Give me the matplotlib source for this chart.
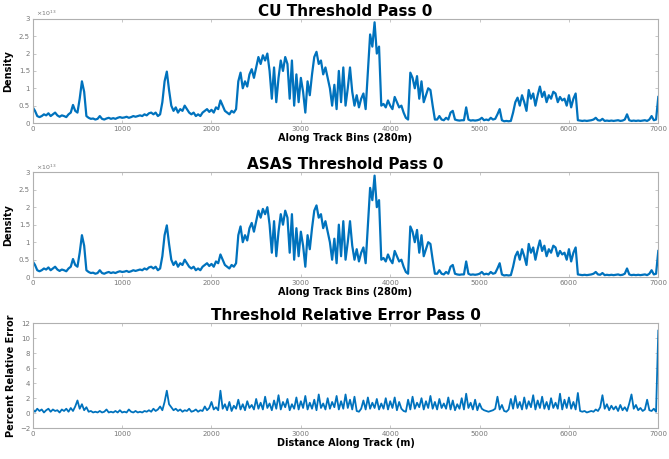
import numpy as np
import matplotlib
matplotlib.use('Agg')
import matplotlib.pyplot as plt

# %% Data (density in units of 1e13, one value every 25 bins)
bin_step = 25

cu_density = [
    0.45, 0.35, 0.2, 0.17, 0.2, 0.25, 0.22, 0.28, 0.2, 0.25, 0.3, 0.22, 0.18, 0.22, 0.2, 0.17, 0.25, 0.3, 0.52, 0.35,
    0.3, 0.7, 1.2, 0.9, 0.2, 0.15, 0.12, 0.13, 0.1, 0.12, 0.2, 0.12, 0.1, 0.13, 0.15, 0.12, 0.14, 0.12, 0.15, 0.17,
    0.15, 0.16, 0.18, 0.15, 0.17, 0.2, 0.18, 0.2, 0.22, 0.2, 0.25, 0.22, 0.28, 0.3, 0.25, 0.3, 0.2, 0.25, 0.6, 1.2,
    1.48, 0.95, 0.5, 0.35, 0.45, 0.3, 0.4, 0.35, 0.5, 0.4, 0.3, 0.25, 0.3, 0.2, 0.25, 0.2, 0.3, 0.35, 0.4, 0.32,
    0.38, 0.3, 0.45, 0.4, 0.65, 0.5, 0.35, 0.3, 0.25, 0.35, 0.3, 0.4, 1.2, 1.45, 1.0, 1.2, 1.05, 1.4, 1.55, 1.3,
    1.6, 1.9, 1.7, 1.95, 1.8, 2.0, 1.5, 0.7, 1.6, 0.6, 1.3, 1.8, 1.5, 1.9, 1.7, 0.7, 1.8, 0.5, 1.4, 0.6,
    1.3, 0.9, 0.3, 1.2, 0.8, 1.4, 1.9, 2.05, 1.7, 1.8, 1.4, 1.6, 1.3, 1.0, 0.5, 1.1, 0.4, 1.5, 0.6, 1.6,
    0.5, 1.0, 1.6, 0.9, 0.5, 0.8, 0.45, 0.7, 0.85, 0.4, 1.5, 2.55, 2.2, 2.9, 2.0, 2.2, 0.5, 0.55, 0.45, 0.65,
    0.5, 0.4, 0.75, 0.6, 0.45, 0.5, 0.3, 0.15, 0.1, 1.45, 1.3, 1.0, 1.35, 0.7, 1.2, 0.6, 0.8, 1.0, 0.95, 0.5,
    0.1, 0.1, 0.2, 0.1, 0.08, 0.15, 0.1, 0.3, 0.35, 0.1, 0.08, 0.07, 0.08, 0.08, 0.45, 0.1, 0.07, 0.08, 0.07, 0.08,
    0.1, 0.15, 0.08, 0.1, 0.08, 0.15, 0.1, 0.12, 0.25, 0.4, 0.08, 0.05, 0.06, 0.05, 0.06, 0.3, 0.6, 0.73, 0.5, 0.8,
    0.6, 0.35, 0.95, 0.7, 0.85, 0.5, 0.8, 1.05, 0.75, 0.9, 0.6, 0.8, 0.7, 0.9, 0.85, 0.6, 0.75, 0.65, 0.7, 0.5,
    0.8, 0.45, 0.7, 0.85, 0.08, 0.07, 0.06, 0.07, 0.06, 0.07, 0.08, 0.1, 0.15, 0.08, 0.07, 0.12, 0.06, 0.07, 0.06, 0.07,
    0.06, 0.07, 0.08, 0.06, 0.07, 0.1, 0.25, 0.08, 0.06, 0.07, 0.06, 0.07, 0.06, 0.07, 0.08, 0.06, 0.1, 0.2, 0.08, 0.1,
    0.75,
]

# ASAS is indistinguishable from CU at this resolution
asas_density = list(cu_density)

rel_error = [
    0.5, 0.2, 0.6, 0.3, 0.5, 0.1, 0.4, 0.6, 0.2, 0.5, 0.3, 0.4, 0.1, 0.5, 0.3, 0.6, 0.2, 0.7, 0.3, 0.9,
    1.7, 0.6, 1.2, 0.4, 0.8, 0.2, 0.3, 0.1, 0.2, 0.1, 0.3, 0.1, 0.2, 0.5, 0.1, 0.2, 0.1, 0.3, 0.1, 0.4,
    0.1, 0.2, 0.1, 0.5, 0.2, 0.1, 0.3, 0.1, 0.2, 0.1, 0.3, 0.2, 0.4, 0.2, 0.6, 0.3, 0.5, 0.9, 0.4, 1.5,
    3.0, 1.2, 0.8, 0.4, 0.6, 0.3, 0.5, 0.2, 0.4, 0.3, 0.6, 0.2, 0.3, 0.5, 0.2, 0.4, 0.3, 0.9, 0.4, 0.7,
    1.5, 0.5, 0.8, 0.4, 3.0, 0.6, 1.2, 0.4, 1.5, 0.3, 1.0, 0.6, 1.8, 0.5, 1.2, 0.4, 1.6, 0.7, 1.1, 0.5,
    1.9, 0.6, 1.4, 0.5, 2.2, 0.7, 1.3, 0.4, 1.7, 0.6, 2.4, 0.5, 1.5, 0.8, 1.9, 0.4, 1.2, 0.6, 2.1, 0.5,
    1.6, 0.7, 2.3, 0.5, 1.4, 0.6, 1.8, 0.4, 2.5, 0.7, 1.3, 0.5, 2.0, 0.6, 1.5, 0.8, 2.3, 0.5, 1.6, 0.6,
    2.5, 0.7, 1.8, 0.5, 2.2, 0.3, 0.2, 0.6, 1.7, 0.5, 2.1, 0.6, 1.4, 0.7, 1.9, 0.5, 1.3, 0.6, 2.0, 0.5,
    1.6, 0.7, 2.1, 0.4, 1.5, 0.6, 0.3, 0.2, 1.8, 0.5, 2.2, 0.6, 1.4, 0.8, 2.0, 0.5, 1.6, 0.7, 2.3, 0.6,
    1.5, 0.5, 1.9, 0.7, 1.3, 0.6, 2.1, 0.5, 1.7, 0.4, 1.2, 0.6, 2.0, 0.5, 2.6, 0.7, 1.4, 0.5, 1.8, 0.4,
    1.3, 0.6, 0.4, 0.3, 0.2, 0.3, 0.4, 0.6, 2.2, 0.5, 1.1, 0.3, 0.2, 0.5, 1.9, 0.6, 2.3, 0.7, 1.5, 0.5,
    2.1, 0.6, 1.6, 0.8, 2.4, 0.5, 1.7, 0.7, 2.2, 0.6, 1.5, 0.5, 2.0, 0.7, 1.4, 0.6, 2.6, 0.5, 1.8, 0.7,
    2.1, 0.6, 1.5, 0.5, 2.7, 0.3, 0.2, 0.3, 0.1, 0.2, 0.3, 0.2, 0.5, 0.3, 0.8, 2.4, 0.6, 1.2, 0.4, 1.0,
    0.5, 0.9, 0.3, 1.1, 0.4, 0.8, 0.3, 1.3, 2.5, 0.6, 1.1, 0.4, 0.7, 0.3, 0.5, 1.8, 0.4, 0.3, 0.6, 0.2,
    11.0,
]

xticks = [0, 1000, 2000, 3000, 4000, 5000, 6000, 7000]
density_ticks = [0, 0.5, 1, 1.5, 2, 2.5, 3]
density_ticklabels = ['0', '0.5', '1', '1.5', '2', '2.5', '3']
error_ticks = [-2, 0, 2, 4, 6, 8, 10, 12]

bins = np.arange(len(cu_density)) * bin_step

line_color = '#0072BD'
axis_color = '#b0b0b0'
tick_color = '#777777'

left, width = 0.049, 0.935


def style_axis(ax):
    ax.set_xlim(0, 7000)
    ax.set_xticks(xticks)
    ax.set_xticklabels([str(t) for t in xticks])
    for spine in ax.spines.values():
        spine.set_color(axis_color)
        spine.set_linewidth(0.8)
    ax.tick_params(direction='in', length=2, width=0.5, colors=axis_color,
                   labelcolor=tick_color, labelsize=5, top=True, right=True, pad=2)


# %% Figure
fig = plt.figure(figsize=(6.69, 4.59), dpi=100)

# CU threshold
ax1 = fig.add_axes([left, 0.732, width, 0.227])
ax1.plot(bins, cu_density, color=line_color, lw=1.6)
style_axis(ax1)
ax1.set_ylim(0, 3)
ax1.set_yticks(density_ticks)
ax1.set_yticklabels(density_ticklabels)
ax1.set_title('CU Threshold Pass 0', fontweight='bold', fontsize=11, pad=2)
ax1.set_xlabel('Along Track Bins (280m)', fontweight='bold', fontsize=7, labelpad=1)
ax1.set_ylabel('Density', fontweight='bold', fontsize=7, labelpad=4)
ax1.text(0.005, 1.005, r'$\times10^{13}$', transform=ax1.transAxes, fontsize=4.5,
         color=tick_color, va='bottom')

# ASAS threshold
ax2 = fig.add_axes([left, 0.396, width, 0.229])
ax2.plot(bins, asas_density, color=line_color, lw=1.6)
style_axis(ax2)
ax2.set_ylim(0, 3)
ax2.set_yticks(density_ticks)
ax2.set_yticklabels(density_ticklabels)
ax2.set_title('ASAS Threshold Pass 0', fontweight='bold', fontsize=11, pad=2)
ax2.set_xlabel('Along Track Bins (280m)', fontweight='bold', fontsize=7, labelpad=1)
ax2.set_ylabel('Density', fontweight='bold', fontsize=7, labelpad=4)
ax2.text(0.005, 1.005, r'$\times10^{13}$', transform=ax2.transAxes, fontsize=4.5,
         color=tick_color, va='bottom')

# Relative error
ax3 = fig.add_axes([left, 0.067, width, 0.229])
ax3.plot(bins, rel_error, color=line_color, lw=1.3)
style_axis(ax3)
ax3.set_ylim(-2, 12)
ax3.set_yticks(error_ticks)
ax3.set_title('Threshold Relative Error Pass 0', fontweight='bold', fontsize=11, pad=2)
ax3.set_xlabel('Distance Along Track (m)', fontweight='bold', fontsize=7, labelpad=1)
ax3.set_ylabel('Percent Relative Error', fontweight='bold', fontsize=7, labelpad=3)

fig.savefig('out.png', dpi=100)
